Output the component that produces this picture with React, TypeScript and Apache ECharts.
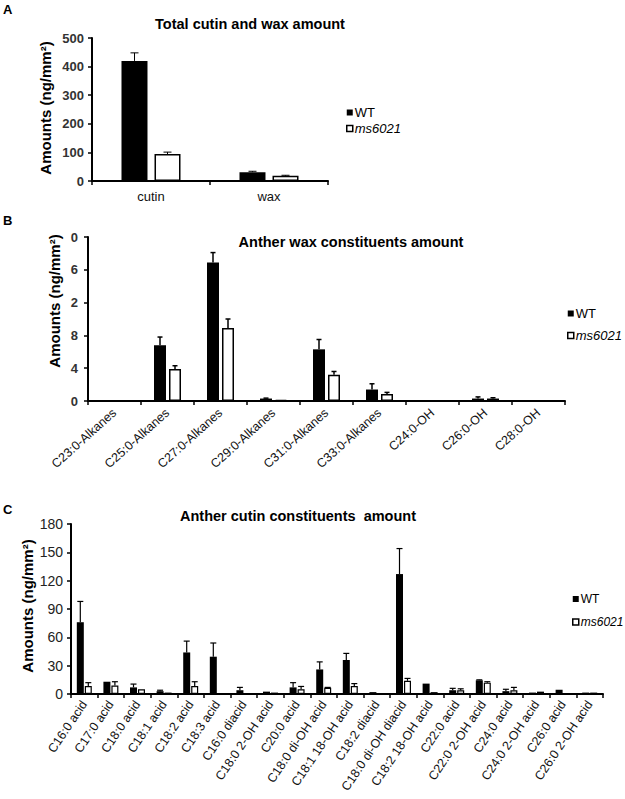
import React, { useEffect, useRef } from "react";
import * as echarts from "echarts";

// ---------- Data ----------
const catsA = ["cutin", "wax"];
const wtA = [420, 31];
const wtAErr = [448, 34];
const msA = [94, 18];
const msAErr = [101, 20];

const catsB = [
  "C23:0-Alkanes",
  "C25:0-Alkanes",
  "C27:0-Alkanes",
  "C29:0-Alkanes",
  "C31:0-Alkanes",
  "C33:0-Alkanes",
  "C24:0-OH",
  "C26:0-OH",
  "C28:0-OH",
];
const wtB = [0.05, 6.8, 16.9, 0.3, 6.3, 1.4, 0.05, 0.3, 0.05];
const wtBErr = [0.05, 7.8, 18.1, 0.35, 7.5, 2.1, 0.05, 0.5, 0.05];
const msB = [0.05, 3.9, 8.9, 0.15, 3.2, 0.85, 0.05, 0.3, 0.05];
const msBErr = [0.05, 4.3, 10.0, 0.15, 3.6, 1.05, 0.05, 0.4, 0.05];
const tickLabelsB: Record<number, string> = { 0: "0", 4: "4", 8: "8", 12: "2", 16: "6", 20: "0" };

const catsC = [
  "C16:0 acid",
  "C17:0 acid",
  "C18:0 acid",
  "C18:1 acid",
  "C18:2 acid",
  "C18:3 acid",
  "C16:0 diacid",
  "C18:0 2-OH acid",
  "C20:0 acid",
  "C18:0 di-OH acid",
  "C18:1 18-OH acid",
  "C18:2 diacid",
  "C18:0 di-OH diacid",
  "C18:2 18-OH acid",
  "C22:0 acid",
  "C22:0 2-OH acid",
  "C24:0 acid",
  "C24:0 2-OH acid",
  "C26:0 acid",
  "C26:0 2-OH acid",
];
const wtC = [76, 13, 7, 3, 44, 39.5, 4, 2.5, 7, 26, 36, 2, 127, 11, 4, 14.5, 3, 1.5, 4.5, 1.5];
const wtCErr = [98, 13, 10.5, 4, 56, 54, 7, 2.5, 12, 34, 43, 2, 154, 11, 6, 15, 5, 1.5, 4.5, 1.5];
const msC = [8.5, 9, 5, 1.5, 8.5, 1, 1, 1.5, 5, 6.5, 8.5, 1, 14, 2, 4, 12, 4, 2.5, 0.5, 1.5];
const msCErr = [12, 13, 5, 1.5, 13, 1, 1, 1.5, 8, 7, 11, 1, 16.5, 2, 5.5, 13, 7, 2.5, 0.5, 1.5];

const titles = [
  "Total cutin and wax amount",
  "Anther wax constituents amount",
  "Anther cutin constituents  amount",
];
const yTitle = "Amounts (ng/mm²)";

const FONT = "'Liberation Sans', Arial, Helvetica, sans-serif";

function errSeries(
  vals: number[],
  errs: number[],
  idx: number,
  offset: number,
  cap: number,
  lw: number
) {
  return {
    type: "custom",
    xAxisIndex: idx,
    yAxisIndex: idx,
    z: 5,
    silent: true,
    data: vals.map((v, i) => [i, v, errs[i]]),
    renderItem: (params: any, api: any) => {
      const i = api.value(0);
      const v = api.value(1);
      const e = api.value(2);
      if (!(e > v)) return { type: "group", children: [] };
      const p0 = api.coord([i, v]);
      const p1 = api.coord([i, e]);
      const cx = p0[0] + offset;
      const style = { stroke: "#000", lineWidth: lw };
      return {
        type: "group",
        children: [
          { type: "line", shape: { x1: cx, y1: p0[1], x2: cx, y2: p1[1] }, style },
          { type: "line", shape: { x1: cx - cap, y1: p1[1], x2: cx + cap, y2: p1[1] }, style },
        ],
      };
    },
  };
}

function barPair(
  wt: number[],
  ms: number[],
  idx: number,
  width: number,
  gap: string,
  bw: number
) {
  return [
    {
      name: "WT",
      type: "bar",
      xAxisIndex: idx,
      yAxisIndex: idx,
      data: wt,
      barWidth: width,
      barGap: gap,
      itemStyle: { color: "#000", borderColor: "#000", borderWidth: 0 },
    },
    {
      name: "ms6021",
      type: "bar",
      xAxisIndex: idx,
      yAxisIndex: idx,
      data: ms,
      barWidth: width,
      barGap: gap,
      itemStyle: { color: "#fff", borderColor: "#000", borderWidth: bw },
    },
  ];
}

function legendFor(left: number, top: number, gap: number, fs: number) {
  return {
    orient: "vertical",
    left,
    top,
    itemWidth: 6,
    itemHeight: 6,
    itemGap: gap,
    icon: "rect",
    selectedMode: false,
    data: [
      { name: "WT", itemStyle: { color: "#000", borderWidth: 0 } },
      { name: "ms6021", itemStyle: { color: "#fff", borderColor: "#000", borderWidth: 1.5 } },
    ],
    formatter: (n: string) => (n === "ms6021" ? "{i|ms6021}" : n),
    textStyle: {
      fontFamily: FONT,
      fontSize: fs,
      color: "#000",
      padding: [0, 0, 0, -3],
      rich: { i: { fontStyle: "italic", fontFamily: FONT, fontSize: fs, color: "#000" } },
    },
  };
}

const axisLine = { show: true, lineStyle: { color: "#000", width: 2 } };
const tick = { show: true, length: 4, lineStyle: { color: "#000", width: 1.5 } };

function titleText(text: string, x: number, y: number) {
  return {
    type: "text",
    x,
    y,
    style: { text, font: `bold 14.5px ${FONT}`, fill: "#000", align: "center", verticalAlign: "middle" },
  };
}

function yTitleText(x: number, y: number) {
  return {
    type: "text",
    x,
    y,
    rotation: Math.PI / 2,
    style: { text: yTitle, font: `bold 15px ${FONT}`, fill: "#000", align: "center", verticalAlign: "middle" },
  };
}

export default function App() {
  const ref = useRef<HTMLDivElement>(null);
  useEffect(() => {
    if (!ref.current) return;
    const chart = echarts.init(ref.current, undefined, { renderer: "svg" });
    const option: any = {
      animation: false,
      backgroundColor: "#fff",
      textStyle: { fontFamily: FONT },
      legend: [
        legendFor(341, 101, 3, 13),
        legendFor(562, 302, 9, 13),
        legendFor(567, 588, 11, 12),
      ],
      grid: [
        { left: 92, top: 38, width: 236, height: 143 },
        { left: 88, top: 237, width: 477, height: 164 },
        { left: 71, top: 524, width: 532, height: 170 },
      ],
      xAxis: [
        {
          type: "category",
          gridIndex: 0,
          data: catsA,
          axisLine,
          axisTick: tick,
          axisLabel: { fontFamily: FONT, fontSize: 13, color: "#111", margin: 9 },
        },
        {
          type: "category",
          gridIndex: 1,
          data: catsB,
          axisLine,
          axisTick: tick,
          axisLabel: { fontFamily: FONT, fontSize: 12.5, color: "#111", rotate: 42, margin: 10, interval: 0 },
        },
        {
          type: "category",
          gridIndex: 2,
          data: catsC,
          axisLine,
          axisTick: tick,
          axisLabel: { fontFamily: FONT, fontSize: 12.5, color: "#111", rotate: 56, margin: 8, interval: 0 },
        },
      ],
      yAxis: [
        {
          type: "value",
          gridIndex: 0,
          min: 0,
          max: 500,
          interval: 100,
          axisLine,
          axisTick: tick,
          splitLine: { show: false },
          axisLabel: { fontFamily: FONT, fontSize: 13, fontWeight: "bold", color: "#333", margin: 8 },
        },
        {
          type: "value",
          gridIndex: 1,
          min: 0,
          max: 20,
          interval: 4,
          axisLine,
          axisTick: tick,
          splitLine: { show: false },
          axisLabel: {
            fontFamily: FONT,
            fontSize: 13,
            fontWeight: "bold",
            color: "#333",
            margin: 10,
            formatter: (v: number) => tickLabelsB[v] ?? String(v),
          },
        },
        {
          type: "value",
          gridIndex: 2,
          min: 0,
          max: 180,
          interval: 30,
          axisLine,
          axisTick: tick,
          splitLine: { show: false },
          axisLabel: { fontFamily: FONT, fontSize: 14, color: "#222", margin: 8 },
        },
      ],
      graphic: [
        { type: "text", left: 3, top: 3, style: { text: "A", font: `bold 13px ${FONT}`, fill: "#000" } },
        { type: "text", left: 3, top: 214, style: { text: "B", font: `bold 13px ${FONT}`, fill: "#000" } },
        { type: "text", left: 3, top: 503, style: { text: "C", font: `bold 13px ${FONT}`, fill: "#000" } },
        titleText(titles[0], 250, 24),
        titleText(titles[1], 351, 242),
        titleText(titles[2], 298, 516),
        yTitleText(45, 108),
        yTitleText(54, 301),
        yTitleText(27, 606),
      ],
      series: [
        ...barPair(wtA, msA, 0, 26, "27%", 1.5),
        ...barPair(wtB, msB, 1, 12, "25%", 1.5),
        ...barPair(wtC, msC, 2, 7, "14%", 1.2),
        errSeries(wtA, wtAErr, 0, -16.5, 4, 1),
        errSeries(msA, msAErr, 0, 16.5, 4, 1),
        errSeries(wtB, wtBErr, 1, -7.5, 2.5, 1.5),
        errSeries(msB, msBErr, 1, 7.5, 2.5, 1.5),
        errSeries(wtC, wtCErr, 2, -4, 3, 1.2),
        errSeries(msC, msCErr, 2, 4, 3, 1.2),
      ],
    };
    chart.setOption(option);
    return () => chart.dispose();
  }, []);
  return (
    <div
      ref={ref}
      style={{ position: "fixed", left: 0, top: 0, width: 625, height: 799, background: "#fff" }}
    />
  );
}
